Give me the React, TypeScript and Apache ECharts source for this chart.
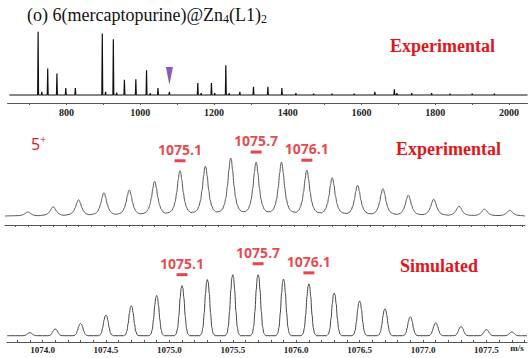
import React, { useEffect, useRef } from 'react';
import * as echarts from 'echarts';

// ---- Overview spectrum (m/z, relative intensity %) ----
const OVERVIEW_MZ = [723, 733, 749, 774, 798, 824, 897, 906, 927, 936, 957, 988, 1017, 1027, 1048, 1079, 1156, 1165, 1193, 1202, 1232, 1241, 1270, 1307, 1346, 1384, 1422, 1470, 1520, 1580, 1636, 1689, 1696, 1736, 1790, 1840, 1900, 1960];
const OVERVIEW_INT = [100, 5, 42, 34, 11, 11, 97, 5, 88, 4, 24, 25, 39, 3, 11, 5, 19, 3, 19, 3, 47, 3, 5, 13, 13, 11, 3, 2, 2, 2, 5, 9, 3, 3, 3, 2, 2, 2];
const OVERVIEW_TICKS = [700, 800, 900, 1000, 1100, 1200, 1300, 1400, 1500, 1600, 1700, 1800, 1900, 2000];
const OVERVIEW_LABELS = [800, 1000, 1200, 1400, 1600, 1800, 2000];
const MARKED_ION = [[1079, 30]];

// ---- Isotope pattern of the 5+ ion ----
const ISO_MZ = [1073.9, 1074.1, 1074.3, 1074.5, 1074.7, 1074.9, 1075.1, 1075.3, 1075.5, 1075.7, 1075.9, 1076.1, 1076.3, 1076.5, 1076.7, 1076.9, 1077.1, 1077.3, 1077.5, 1077.7];
const EXP_INT = [7, 16, 28, 40, 45, 60, 78, 86, 100, 93, 93, 79, 66, 53, 47, 36, 29, 17, 12, 10];
const SIM_INT = [5, 11, 20, 34, 49, 66, 82, 92, 100, 100, 93, 85, 70, 57, 44, 31, 21, 15, 10, 6];
const LABEL_MZ = [1075.1, 1075.7, 1076.1];
const LABEL_TEXT = ['1075.1', '1075.7', '1076.1'];
const ISO_TICKS = [1073.8, 1073.9, 1074.0, 1074.1, 1074.2, 1074.3, 1074.4, 1074.5, 1074.6, 1074.7, 1074.8, 1074.9, 1075.0, 1075.1, 1075.2, 1075.3, 1075.4, 1075.5, 1075.6, 1075.7, 1075.8, 1075.9, 1076.0, 1076.1, 1076.2, 1076.3, 1076.4, 1076.5, 1076.6, 1076.7, 1076.8, 1076.9, 1077.0, 1077.1, 1077.2, 1077.3, 1077.4, 1077.5, 1077.6, 1077.7, 1077.8];
const ISO_LABELS = [1074.0, 1074.5, 1075.0, 1075.5, 1076.0, 1076.5, 1077.0, 1077.5];

// peak shape profiles (offset in m/z, fraction of peak height) – drawing style
const EXP_SHAPE = [[-0.085, 0.08], [-0.065, 0.12], [-0.05, 0.2], [-0.038, 0.32], [-0.026, 0.52], [-0.014, 0.8], [-0.005, 0.97], [0, 1], [0.005, 0.97], [0.014, 0.8], [0.026, 0.52], [0.038, 0.32], [0.05, 0.2], [0.065, 0.12], [0.085, 0.08]];
const SIM_SHAPE = [[-0.06, 0], [-0.045, 0.04], [-0.035, 0.15], [-0.025, 0.4], [-0.015, 0.75], [-0.007, 0.95], [0, 1], [0.007, 0.95], [0.015, 0.75], [0.025, 0.4], [0.035, 0.15], [0.045, 0.04], [0.06, 0]];

const RED = '#e3151b';
const SERIF = '"Liberation Serif", "Times New Roman", serif';
const SANS = '"Open Sans", "Noto Sans", sans-serif';

function sticks(mz: number[], inten: number[], hw: number, lo: number, hi: number) {
  const idx = mz.map((_, i) => i).sort((a, b) => mz[a] - mz[b]);
  const pts: number[][] = [[lo, 0]];
  idx.forEach((i) => {
    pts.push([mz[i] - hw, 0], [mz[i], inten[i]], [mz[i] + hw, 0]);
  });
  pts.push([hi, 0]);
  return pts;
}

function profile(mz: number[], inten: number[], shape: number[][], lo: number, hi: number) {
  const pts: number[][] = [[lo, 0]];
  mz.forEach((m, i) => {
    shape.forEach(([o, f]) => pts.push([m + o, inten[i] * f]));
  });
  pts.push([hi, 0]);
  return pts;
}

export default function App() {
  const ref = useRef<HTMLDivElement>(null);
  useEffect(() => {
    if (!ref.current) return;
    const chart = echarts.init(ref.current, null, { renderer: 'svg' });
    const axisLineStyle = { color: '#555', width: 1 };
    const labelStyle = { fontFamily: SERIF, fontWeight: 'bold' as const, fontSize: 9, color: '#222' };
    const isoMin = 1073.72;
    const isoMax = 1077.82;
    const labelSeries = (xi: number, vals: number[], off: number) => ({
      type: 'scatter',
      xAxisIndex: xi,
      yAxisIndex: xi,
      data: LABEL_MZ.map((m) => [m, vals[ISO_MZ.indexOf(m)]]),
      symbol: 'rect',
      symbolSize: [11, 3],
      symbolOffset: [0, -off],
      itemStyle: { color: RED },
      clip: false,
      label: {
        show: true,
        position: 'top',
        distance: 3,
        formatter: (p: any) => LABEL_TEXT[p.dataIndex],
        fontFamily: SANS,
        fontWeight: 'bold',
        fontSize: 14,
        color: RED,
      },
      z: 5,
    });
    chart.setOption({
      animation: false,
      backgroundColor: '#fff',
      grid: [
        { left: 7.5, right: 4.5, top: 30, height: 73 },
        { left: 5, right: 7, top: 158, height: 67 },
        { left: 7, right: 5, top: 274.7, height: 67.3 },
      ],
      xAxis: [
        {
          type: 'value', gridIndex: 0, min: 640, max: 2050,
          axisLine: { show: true, onZero: false, lineStyle: axisLineStyle },
          splitLine: { show: false },
          axisTick: { show: true, customValues: OVERVIEW_TICKS, length: 2, lineStyle: axisLineStyle },
          axisLabel: { show: true, customValues: OVERVIEW_LABELS, margin: 4, formatter: (v: number) => String(v), ...labelStyle, fontSize: 10 },
        },
        {
          type: 'value', gridIndex: 1, min: isoMin, max: isoMax,
          axisLine: { show: true, onZero: false, lineStyle: axisLineStyle },
          splitLine: { show: false },
          axisTick: { show: true, customValues: ISO_TICKS, length: 2, lineStyle: axisLineStyle },
          axisLabel: { show: false },
        },
        {
          type: 'value', gridIndex: 2, min: isoMin, max: isoMax,
          axisLine: { show: true, onZero: false, lineStyle: axisLineStyle },
          splitLine: { show: false },
          axisTick: { show: true, inside: true, customValues: ISO_TICKS, length: 2, lineStyle: axisLineStyle },
          axisLabel: { show: true, customValues: ISO_LABELS, margin: 3, formatter: (v: number) => v.toFixed(1), ...labelStyle },
        },
      ],
      yAxis: [
        { type: 'value', gridIndex: 0, min: -12.6, max: 102.7, show: false },
        { type: 'value', gridIndex: 1, min: -15.5, max: 100, show: false },
        { type: 'value', gridIndex: 2, min: -10.3, max: 100, show: false },
      ],
      series: [
        {
          type: 'line', xAxisIndex: 0, yAxisIndex: 0, showSymbol: false, silent: true,
          data: sticks(OVERVIEW_MZ, OVERVIEW_INT, 1.2, 645, 2050),
          lineStyle: { color: '#111', width: 1.2 },
        },
        {
          type: 'scatter', xAxisIndex: 0, yAxisIndex: 0, data: MARKED_ION,
          symbol: 'triangle', symbolRotate: 180, symbolSize: [7, 18],
          itemStyle: { color: '#7030a0' }, silent: true,
        },
        {
          type: 'line', xAxisIndex: 1, yAxisIndex: 1, showSymbol: false, silent: true,
          data: profile(ISO_MZ, EXP_INT, EXP_SHAPE, isoMin, isoMax),
          smooth: 0.3, smoothMonotone: 'x',
          lineStyle: { color: '#555', width: 1 },
        },
        labelSeries(1, EXP_INT, 10),
        {
          type: 'line', xAxisIndex: 2, yAxisIndex: 2, showSymbol: false, silent: true,
          data: profile(ISO_MZ, SIM_INT, SIM_SHAPE, isoMin, isoMax),
          smooth: 0.3, smoothMonotone: 'x',
          lineStyle: { color: '#444', width: 1 },
        },
        labelSeries(2, SIM_INT, 11),
      ],
      graphic: [
        {
          type: 'text', left: 27, top: 5,
          style: {
            text: '(o) 6(mercaptopurine)@Zn{s|4}(L1){s|2}',
            fontFamily: SERIF, fontSize: 18, lineHeight: 20, fill: '#111',
            rich: { s: { fontFamily: SERIF, fontSize: 12, lineHeight: 8, verticalAlign: 'bottom', fill: '#111' } },
          },
        },
        {
          type: 'text', x: 442.5, y: 46,
          style: { text: 'Experimental', fontFamily: SERIF, fontWeight: 'bold', fontSize: 18, fill: RED, align: 'center', verticalAlign: 'middle' },
        },
        {
          type: 'text', x: 448.5, y: 149,
          style: { text: 'Experimental', fontFamily: SERIF, fontWeight: 'bold', fontSize: 18, fill: RED, align: 'center', verticalAlign: 'middle' },
        },
        {
          type: 'text', x: 439, y: 266,
          style: { text: 'Simulated', fontFamily: SERIF, fontWeight: 'bold', fontSize: 18, fill: RED, align: 'center', verticalAlign: 'middle' },
        },
        {
          type: 'text', left: 31, top: 134,
          style: {
            text: '5{p|+}', fontFamily: SANS, fontSize: 16, lineHeight: 19, fill: RED,
            rich: { p: { fontFamily: SANS, fontSize: 10, lineHeight: 8, verticalAlign: 'top', fill: RED } },
          },
        },
        {
          type: 'text', x: 517, y: 348,
          style: { text: 'm/s', fontFamily: SERIF, fontWeight: 'bold', fontSize: 9, fill: '#222', align: 'center', verticalAlign: 'middle' },
        },
      ],
    });
    return () => chart.dispose();
  }, []);
  return <div ref={ref} style={{ position: 'fixed', left: 0, top: 0, width: 532, height: 358 }} />;
}
